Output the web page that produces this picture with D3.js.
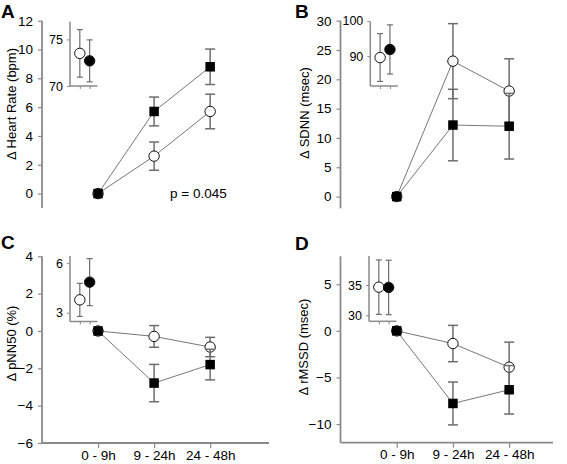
<!DOCTYPE html>
<html><head><meta charset="utf-8">
<script src="https://cdn.jsdelivr.net/npm/d3@7"></script>
<style>body{margin:0;background:#fff}svg{display:block}text{font-family:"Liberation Sans",Arial,sans-serif}</style>
</head><body>
<svg id="c" width="567" height="464"></svg>
<script>
// ---------- DATA ----------
const categories = ["0 - 9h", "9 - 24h", "24 - 48h"];

const hrSquare = [0, 5.7, 8.8],   hrSquareErr = [0, 1.0, 1.23];
const hrCircle = [0, 2.6, 5.7],   hrCircleErr = [0, 0.98, 1.2];
const hrInset = [73.5, 72.7],     hrInsetErr = [2.55, 2.25];
const hrTicks = [0, 2, 4, 6, 8, 10, 12], hrInsetTicks = [70, 75];

const sdnnSquare = [0, 12.2, 12.0], sdnnSquareErr = [0, 6.1, 5.6];
const sdnnCircle = [0, 23.1, 18.0], sdnnCircleErr = [0, 6.4, 5.5];
const sdnnInset = [89.6, 91.9],     sdnnInsetErr = [6.8, 7.0];
const sdnnTicks = [0, 5, 10, 15, 20, 25, 30], sdnnInsetTicks = [90, 100];

const pnnSquare = [0, -2.79, -1.8], pnnSquareErr = [0, 1.0, 0.82];
const pnnCircle = [0, -0.29, -0.86], pnnCircleErr = [0, 0.58, 0.52];
const pnnInset = [3.78, 4.85],      pnnInsetErr = [1.0, 1.42];
const pnnTicks = [-6, -4, -2, 0, 2, 4], pnnInsetTicks = [3, 6];

const rmSquare = [0, -7.79, -6.32], rmSquareErr = [0, 2.3, 2.6];
const rmCircle = [0, -1.36, -3.9],  rmCircleErr = [0, 1.95, 2.69];
const rmInset = [34.65, 34.6],      rmInsetErr = [4.5, 4.5];
const rmTicks = [-10, -5, 0, 5], rmInsetTicks = [30, 35];

const panelLetters = ["A", "B", "C", "D"];
const yTitles = ["\u0394 Heart Rate (bpm)", "\u0394 SDNN (msec)", "\u0394 pNN50 (%)", "\u0394 rMSSD (msec)"];
const pText = "p = 0.045";

// ---------- DRAW ----------
const svg = d3.select("#c");
const AX = "#8a8a8a", EB = "#6e6e6e", LN = "#777";

function drawPanel(p) {
  const g = svg.append("g");
  const x = d3.scaleLinear().domain([0, p.xMax]).range([p.x0, p.x1]);
  const y = d3.scaleLinear().domain(p.yDomain).range([p.yBottom, p.yTop]);
  const idx = [1, 2, 3];

  // y axis
  const ya = g.append("g").attr("transform", `translate(${p.x0},0)`)
    .call(d3.axisLeft(y).tickValues(p.ticks).tickSize(4).tickPadding(5).tickFormat(d3.format("d")));
  ya.select(".domain").attr("stroke", AX).attr("stroke-width", 1.8).attr("d", `M0,${p.yBottom}V${p.yTop}`);
  ya.selectAll(".tick line").attr("stroke", AX).attr("stroke-width", 1.2);
  ya.selectAll(".tick text").attr("font-size", 13.5).attr("fill", "#000").style("font-family", "Liberation Sans, Arial");

  if (p.xAxis) {
    const xa = g.append("g").attr("transform", `translate(0,${p.yBottom})`)
      .call(d3.axisBottom(x).tickValues(idx).tickSize(5).tickPadding(2).tickFormat(d => categories[d - 1]));
    xa.select(".domain").attr("stroke", AX).attr("stroke-width", 1.8).attr("d", `M${p.x0},0H${p.x1}`);
    xa.selectAll(".tick line").attr("stroke", AX).attr("stroke-width", 1.2);
    xa.selectAll(".tick text").attr("font-size", 13.5).attr("fill", "#000").style("font-family", "Liberation Sans, Arial");
  }

  function series(vals, errs, kind) {
    const pts = vals.map((v, i) => ({ i: idx[i], v, e: errs[i] }));
    const eg = g.append("g").attr("stroke", EB).attr("stroke-width", 1.5).attr("fill", "none");
    pts.filter(d => d.e > 0).forEach(d => {
      const cx = x(d.i), cap = 5;
      eg.append("line").attr("x1", cx).attr("x2", cx).attr("y1", y(d.v - d.e)).attr("y2", y(d.v + d.e));
      eg.append("line").attr("x1", cx - cap).attr("x2", cx + cap).attr("y1", y(d.v + d.e)).attr("y2", y(d.v + d.e));
      eg.append("line").attr("x1", cx - cap).attr("x2", cx + cap).attr("y1", y(d.v - d.e)).attr("y2", y(d.v - d.e));
    });
    g.append("path").datum(pts)
      .attr("d", d3.line().x(d => x(d.i)).y(d => y(d.v)))
      .attr("fill", "none").attr("stroke", LN).attr("stroke-width", 1);
    if (kind === "circle") {
      g.selectAll(null).data(pts).enter().append("circle")
        .attr("cx", d => x(d.i)).attr("cy", d => y(d.v)).attr("r", 5.2)
        .attr("fill", "#fff").attr("stroke", "#111").attr("stroke-width", 1);
    } else {
      const s = 9.5;
      g.selectAll(null).data(pts).enter().append("rect")
        .attr("x", d => x(d.i) - s / 2).attr("y", d => y(d.v) - s / 2)
        .attr("width", s).attr("height", s).attr("fill", "#000");
    }
  }
  series(p.circle, p.circleErr, "circle");
  series(p.square, p.squareErr, "square");

  // inset
  const ins = p.inset;
  const ix = d3.scaleLinear().domain([0, 2.8]).range([ins.x0, ins.x0 + 27.5]);
  const iy = d3.scaleLinear().domain(ins.domain).range([ins.yBottom, ins.yTop]);
  const ig = g.append("g");
  const iya = ig.append("g").attr("transform", `translate(${ins.x0},0)`)
    .call(d3.axisLeft(iy).tickValues(ins.ticks).tickSize(3).tickPadding(4).tickFormat(d3.format("d")));
  iya.select(".domain").attr("stroke", AX).attr("stroke-width", 1.5).attr("d", `M0,${ins.yBottom}V${ins.yTop}`);
  iya.selectAll(".tick line").attr("stroke", AX);
  iya.selectAll(".tick text").attr("font-size", 12.5).attr("fill", "#000").style("font-family", "Liberation Sans, Arial");
  const ixa = ig.append("g").attr("transform", `translate(0,${ins.yBottom})`)
    .call(d3.axisBottom(ix).tickValues([1, 2]).tickSize(3).tickFormat(""));
  ixa.select(".domain").attr("stroke", AX).attr("stroke-width", 1.5).attr("d", `M${ins.x0},0H${ins.x0 + 27.5}`);
  ixa.selectAll(".tick line").attr("stroke", AX);
  ins.vals.forEach((v, i) => {
    const cx = ix(i + 1), e = ins.errs[i], cap = 3;
    ig.append("line").attr("x1", cx).attr("x2", cx).attr("y1", iy(v - e)).attr("y2", iy(v + e)).attr("stroke", EB).attr("stroke-width", 1.2);
    ig.append("line").attr("x1", cx - cap).attr("x2", cx + cap).attr("y1", iy(v + e)).attr("y2", iy(v + e)).attr("stroke", EB).attr("stroke-width", 1.2);
    ig.append("line").attr("x1", cx - cap).attr("x2", cx + cap).attr("y1", iy(v - e)).attr("y2", iy(v - e)).attr("stroke", EB).attr("stroke-width", 1.2);
  });
  ins.vals.forEach((v, i) => {
    ig.append("circle").attr("cx", ix(i + 1)).attr("cy", iy(v)).attr("r", 5.2)
      .attr("fill", i === 0 ? "#fff" : "#000").attr("stroke", "#111").attr("stroke-width", 1);
  });

  // texts
  g.append("text").attr("x", p.letter[0]).attr("y", p.letter[1]).text(p.letterText)
    .attr("font-size", 19).attr("font-weight", "bold").attr("fill", "#000");
  g.append("text").attr("transform", `translate(${p.title[0]},${p.title[1]}) rotate(-90)`)
    .attr("text-anchor", "middle").attr("dominant-baseline", "central")
    .attr("font-size", 13).attr("fill", "#000").text(p.titleText);
  if (p.note) {
    g.append("text").attr("x", p.note[0]).attr("y", p.note[1]).text(p.noteText)
      .attr("font-size", 13.5).attr("fill", "#000");
  }
}

drawPanel({ x0: 42, x1: 269, xMax: 4.05, yDomain: [-1, 12], yBottom: 208, yTop: 20.7, ticks: hrTicks, xAxis: false,
  square: hrSquare, squareErr: hrSquareErr, circle: hrCircle, circleErr: hrCircleErr,
  inset: { x0: 70, yTop: 21.7, yBottom: 86, domain: [70, 76.9], ticks: hrInsetTicks, vals: hrInset, errs: hrInsetErr },
  letter: [1, 18], letterText: panelLetters[0], title: [11.5, 104], titleText: yTitles[0],
  note: [170, 198], noteText: pText });

drawPanel({ x0: 340.5, x1: 553, xMax: 3.78, yDomain: [-2, 30], yBottom: 208.3, yTop: 20.7, ticks: sdnnTicks, xAxis: false,
  square: sdnnSquare, squareErr: sdnnSquareErr, circle: sdnnCircle, circleErr: sdnnCircleErr,
  inset: { x0: 370.3, yTop: 21.7, yBottom: 86, domain: [81.5, 99.8], ticks: sdnnInsetTicks, vals: sdnnInset, errs: sdnnInsetErr },
  letter: [295, 18], letterText: panelLetters[1], title: [304.5, 113], titleText: yTitles[1] });

drawPanel({ x0: 42, x1: 269, xMax: 4.05, yDomain: [-6, 4], yBottom: 443, yTop: 256.3, ticks: pnnTicks, xAxis: true,
  square: pnnSquare, squareErr: pnnSquareErr, circle: pnnCircle, circleErr: pnnCircleErr,
  inset: { x0: 70, yTop: 256, yBottom: 321.5, domain: [2.47, 6.43], ticks: pnnInsetTicks, vals: pnnInset, errs: pnnInsetErr },
  letter: [1, 249], letterText: panelLetters[2], title: [11, 343.5], titleText: yTitles[2] });

drawPanel({ x0: 340.5, x1: 553, xMax: 3.78, yDomain: [-12, 8], yBottom: 442.7, yTop: 256.3, ticks: rmTicks, xAxis: true,
  square: rmSquare, squareErr: rmSquareErr, circle: rmCircle, circleErr: rmCircleErr,
  inset: { x0: 369, yTop: 256, yBottom: 321.3, domain: [29.0, 39.8], ticks: rmInsetTicks, vals: rmInset, errs: rmInsetErr },
  letter: [295, 250], letterText: panelLetters[3], title: [303.5, 347], titleText: yTitles[3] });
</script>
</body></html>
